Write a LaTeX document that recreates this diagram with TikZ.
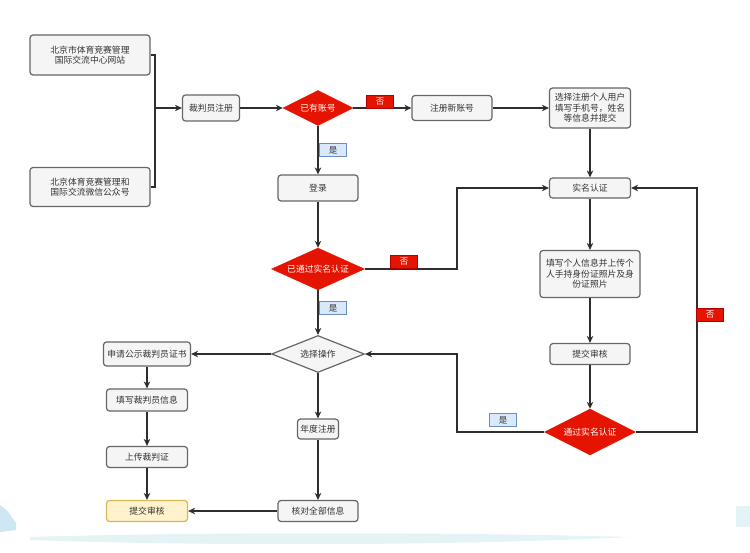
\documentclass[tikz,border=0pt]{standalone}
\usepackage{fontspec}
\setmainfont{Noto Sans CJK SC}
\usetikzlibrary{arrows.meta,shapes.geometric}
\definecolor{boxfill}{HTML}{F5F5F5}
\definecolor{boxline}{HTML}{666666}
\definecolor{txt}{HTML}{333333}
\definecolor{redd}{HTML}{E51400}
\definecolor{redline}{HTML}{B20000}
\definecolor{bluefill}{HTML}{DAE8FC}
\definecolor{blueline}{HTML}{6C8EBF}
\definecolor{yelfill}{HTML}{FFF2CC}
\definecolor{yelline}{HTML}{D6B656}
\definecolor{swoosh}{HTML}{CFE6F3}
\definecolor{swoosh2}{HTML}{E3F3F6}
\tikzset{
  box/.style={draw=boxline, fill=boxfill, rounded corners=3pt, line width=1.2pt, text=txt, align=center, font=\fontsize{8.8}{10.5}\selectfont, inner sep=1pt},
  ybox/.style={box, draw=yelline, fill=yelfill},
  rdia/.style={diamond, aspect=2, fill=redd, draw=redd, text=white, font=\fontsize{8.8}{10}\selectfont, inner sep=0pt},
  gdia/.style={diamond, aspect=2, fill=boxfill, draw=boxline, line width=1.2pt, text=txt, font=\fontsize{8.8}{10}\selectfont, inner sep=0pt},
  nolab/.style={fill=redd, draw=redline, text=white, font=\fontsize{8.5}{9}\selectfont, minimum width=27pt, minimum height=13pt, inner sep=0pt},
  yeslab/.style={fill=bluefill, draw=blueline, text=txt, font=\fontsize{8.5}{9}\selectfont, minimum width=27pt, minimum height=13pt, inner sep=0pt},
  conn/.style={draw=txt!90!black, line width=1.4pt},
  arr/.style={conn, -{Stealth[length=7pt,width=6.5pt]}},
}
\begin{document}
\begin{tikzpicture}[x=1pt,y=-1pt]
\useasboundingbox (0,0) rectangle (750,553);
% background decoration
\fill[swoosh] (0,505) .. controls (8,511) .. (16,523) -- (16,530) -- (0,532) -- cycle;
\fill[swoosh2] (30,537) .. controls (200,532) and (450,532) .. (630,537) .. controls (450,546) and (200,546) .. (30,540) -- cycle;
\fill[swoosh2] (736,506) rectangle (750,527);

% nodes
\node[box, minimum width=120pt, minimum height=40pt] (s1) at (90,55) {北京市体育竞赛管理\\国际交流中心网站};
\node[box, minimum width=120pt, minimum height=39pt] (s2) at (90,187) {北京体育竞赛管理和\\国际交流微信公众号};
\node[box, minimum width=57pt, minimum height=26pt] (ref) at (211,108) {裁判员注册};
\node[rdia, minimum width=70pt, minimum height=35pt] (d1) at (318,108) {已有账号};
\node[box, minimum width=80pt, minimum height=25pt] (newacc) at (452,108) {注册新账号};
\node[box, minimum width=81pt, minimum height=40pt] (sel) at (590,108) {选择注册个人用户\\填写手机号，姓名\\等信息并提交};
\node[box, minimum width=80pt, minimum height=26pt] (login) at (318,188) {登录};
\node[box, minimum width=81pt, minimum height=20pt] (real) at (590,188) {实名认证};
\node[rdia, minimum width=93pt, minimum height=42pt] (d2) at (318,269) {已通过实名认证};
\node[box, minimum width=100pt, minimum height=47pt] (fill) at (590,274) {填写个人信息并上传个\\人手持身份证照片及身\\份证照片};
\node[gdia, minimum width=93pt, minimum height=37pt] (op) at (318,354) {选择操作};
\node[box, minimum width=80pt, minimum height=21pt] (sub1) at (590,354) {提交审核};
\node[rdia, minimum width=91pt, minimum height=46pt] (d3) at (590,432) {通过实名认证};
\node[box, minimum width=87pt, minimum height=24pt] (apply) at (147,354) {申请公示裁判员证书};
\node[box, minimum width=81pt, minimum height=22pt] (info) at (147,400) {填写裁判员信息};
\node[box, minimum width=81pt, minimum height=21pt] (upl) at (147,457) {上传裁判证};
\node[ybox, minimum width=81pt, minimum height=21pt] (sub2) at (147,511) {提交审核};
\node[box, minimum width=41pt, minimum height=20pt] (year) at (318,429) {年度注册};
\node[box, minimum width=80pt, minimum height=21pt] (chk) at (318,511) {核对全部信息};

% connectors
\coordinate (j) at (155,108);
\draw[conn] (s1.east) -| (j);
\draw[conn] (s2.east) -| (j);
\draw[arr] (j) -- (ref.west);
\draw[arr] (ref.east) -- (d1.west);
\draw[arr] (d1.east) -- (newacc.west);
\draw[arr] (newacc.east) -- (sel.west);
\draw[arr] (d1.south) -- (login.north);
\draw[arr] (sel.south) -- (real.north);
\draw[arr] (login.south) -- (d2.north);
\coordinate (c1) at (457,188);
\draw[arr] (d2.east) -| (c1) -- (real.west);
\draw[arr] (real.south) -- (fill.north);
\draw[arr] (fill.south) -- (sub1.north);
\draw[arr] (sub1.south) -- (d3.north);
\draw[arr] (d2.south) -- (op.north);
\coordinate (c2) at (457,354);
\draw[arr] (d3.west) -| (c2) -- (op.east);
\coordinate (c3) at (697,188);
\draw[arr] (d3.east) -| (c3) -- (real.east);
\draw[arr] (op.west) -- (apply.east);
\draw[arr] (op.south) -- (year.north);
\draw[arr] (apply.south) -- (info.north);
\draw[arr] (info.south) -- (upl.north);
\draw[arr] (upl.south) -- (sub2.north);
\draw[arr] (year.south) -- (chk.north);
\draw[arr] (chk.west) -- (sub2.east);

% labels
\node[nolab] (n1) at (380,102) {否};
\node[yeslab] (y1) at (333,150) {是};
\node[nolab] (n2) at (404,262) {否};
\node[yeslab] (y2) at (333,308) {是};
\node[yeslab] (y3) at (503,420) {是};
\node[nolab] (n3) at (710,315) {否};
\end{tikzpicture}
\end{document}
